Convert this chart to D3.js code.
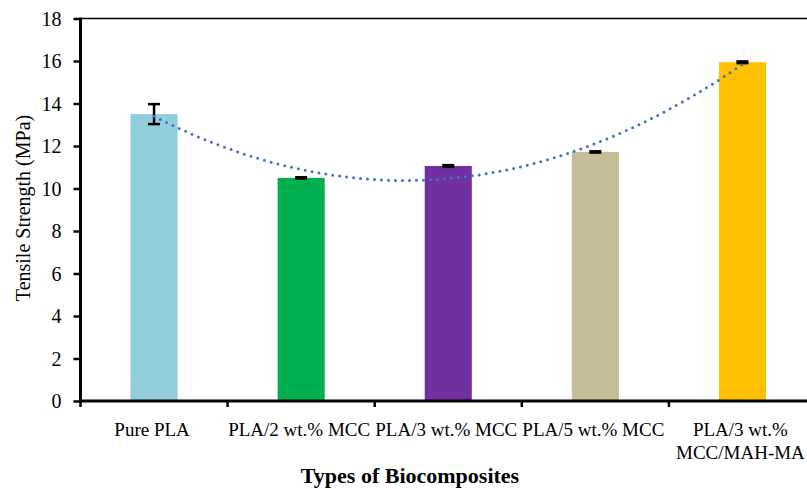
<!DOCTYPE html>
<html>
<head>
<meta charset="utf-8">
<script src="https://cdn.jsdelivr.net/npm/d3@7"></script>
<style>
  body { margin: 0; background: #fff; }
  text { font-family: "Liberation Serif", "Times New Roman", serif; fill: #000; }
</style>
</head>
<body>
<div id="vis"></div>
<script>
var width = 807,
    height = 489;

// data
var categories = ["Pure PLA", "PLA/2 wt.% MCC", "PLA/3 wt.% MCC", "PLA/5 wt.% MCC", "PLA/3 wt.% MCC/MAH-MA"];
var labelLines = [["Pure PLA"], ["PLA/2 wt.% MCC"], ["PLA/3 wt.% MCC"], ["PLA/5 wt.% MCC"], ["PLA/3 wt.%", "MCC/MAH-MA"]];
var strength = [13.5, 10.5, 11.06, 11.72, 15.94];
var errors = [0.47, 0.03, 0.04, 0.03, 0.04];
var barColors = ["#92CDDC", "#00B050", "#7030A0", "#C4BD97", "#FFC000"];
var yTicks = [0, 2, 4, 6, 8, 10, 12, 14, 16, 18];

var plotLeft = 80.5, plotTop = 18.5, plotBottom = 401, plotRight = 816;

var svg = d3.select("#vis").append("svg")
    .attr("width", width)
    .attr("height", height);

var x = d3.scaleBand()
    .domain(categories)
    .range([plotLeft, plotRight])
    .paddingInner(0.68)
    .paddingOuter(0.34);

var y = d3.scaleLinear()
    .domain([0, 18])
    .range([plotBottom, plotTop]);

// top border
svg.append("line")
    .attr("x1", plotLeft).attr("x2", width)
    .attr("y1", plotTop).attr("y2", plotTop)
    .attr("stroke", "#000")
    .attr("stroke-width", 1.5);

// bars
svg.selectAll("rect.bar")
    .data(strength)
    .enter()
    .append("rect")
    .attr("class", "bar")
    .attr("x", function(d, i) { return x(categories[i]); })
    .attr("y", function(d) { return y(d); })
    .attr("width", x.bandwidth())
    .attr("height", function(d) { return y(0) - y(d); })
    .attr("fill", function(d, i) { return barColors[i]; });

// error bars
var eb = svg.selectAll("g.err")
    .data(strength)
    .enter()
    .append("g")
    .attr("class", "err")
    .attr("transform", function(d, i) {
        return "translate(" + (x(categories[i]) + x.bandwidth() / 2) + ",0)";
    });

eb.append("line")
    .attr("y1", function(d, i) { return y(d + errors[i]); })
    .attr("y2", function(d, i) { return y(d - errors[i]); })
    .attr("stroke", "#000")
    .attr("stroke-width", 2.5);

eb.append("line")
    .attr("x1", -6).attr("x2", 6)
    .attr("y1", function(d, i) { return y(d + errors[i]); })
    .attr("y2", function(d, i) { return y(d + errors[i]); })
    .attr("stroke", "#000")
    .attr("stroke-width", 2.5);

eb.append("line")
    .attr("x1", -6).attr("x2", 6)
    .attr("y1", function(d, i) { return y(d - errors[i]); })
    .attr("y2", function(d, i) { return y(d - errors[i]); })
    .attr("stroke", "#000")
    .attr("stroke-width", 2.5);

// polynomial (order 2) trendline, least squares fit of the bar values
var n = strength.length, mx = (n + 1) / 2;
var sy = 0, suy = 0, su2y = 0, su2 = 0, su4 = 0;
strength.forEach(function(v, i) {
    var u = (i + 1) - mx;
    sy += v; suy += u * v; su2y += u * u * v; su2 += u * u; su4 += u * u * u * u;
});
var cb = suy / su2;
var cc = (su2y - su2 * sy / n) / (su4 - su2 * su2 / n);
var ca = (sy - cc * su2) / n;
function fit(t) { var u = t - mx; return ca + cb * u + cc * u * u; }

var xPos = function(t) {
    return x(categories[0]) + x.bandwidth() / 2 + (t - 1) * x.step();
};
var trend = d3.range(1, 5.001, 0.05);

svg.append("path")
    .datum(trend)
    .attr("d", d3.line()
        .x(function(t) { return xPos(t); })
        .y(function(t) { return y(fit(t)); })
        .curve(d3.curveMonotoneX))
    .attr("fill", "none")
    .attr("stroke", "#4472C4")
    .attr("stroke-width", 3)
    .attr("stroke-linecap", "round")
    .attr("stroke-dasharray", "0 7");

// y axis
var yAxis = svg.append("g")
    .attr("transform", "translate(" + plotLeft + ",0)")
    .call(d3.axisLeft(y).tickValues(yTicks).tickSize(7).tickPadding(12));
yAxis.select(".domain").attr("stroke", "#000").attr("stroke-width", 3)
    .attr("d", "M0," + (plotTop - 1) + "V" + (plotBottom + 1.5));
yAxis.selectAll(".tick line").attr("stroke", "#000").attr("stroke-width", 2.5);
yAxis.selectAll(".tick text")
    .style("font-family", "'Liberation Serif', serif")
    .style("font-size", "20px")
    .attr("dy", "0.34em");

// x axis
var xAxis = svg.append("g")
    .attr("transform", "translate(0," + plotBottom + ")");
xAxis.append("line")
    .attr("x1", plotLeft - 1.5).attr("x2", width)
    .attr("y1", 0).attr("y2", 0)
    .attr("stroke", "#000")
    .attr("stroke-width", 3);
xAxis.selectAll("line.xt")
    .data(d3.range(categories.length + 1))
    .enter()
    .append("line")
    .attr("class", "xt")
    .attr("x1", function(i) { return plotLeft + i * x.step(); })
    .attr("x2", function(i) { return plotLeft + i * x.step(); })
    .attr("y1", 0).attr("y2", 6)
    .attr("stroke", "#000")
    .attr("stroke-width", 2.5);

var xl = svg.selectAll("text.xl")
    .data(labelLines)
    .enter()
    .append("text")
    .attr("class", "xl")
    .attr("text-anchor", "middle")
    .style("font-size", "19px")
    .attr("transform", function(d, i) {
        return "translate(" + (x(categories[i]) + x.bandwidth() / 2 - 2) + ",436)";
    });
xl.selectAll("tspan")
    .data(function(d) { return d; })
    .enter()
    .append("tspan")
    .attr("x", 0)
    .attr("dy", function(d, j) { return j === 0 ? 0 : 23; })
    .text(function(d) { return d; });

// axis titles
svg.append("text")
    .attr("text-anchor", "middle")
    .attr("transform", "translate(30,208) rotate(-90)")
    .style("font-size", "20px")
    .text("Tensile Strength (MPa)");

svg.append("text")
    .attr("x", 410)
    .attr("y", 483)
    .attr("text-anchor", "middle")
    .style("font-size", "22px")
    .style("font-weight", "bold")
    .text("Types of Biocomposites");
</script>
</body>
</html>
